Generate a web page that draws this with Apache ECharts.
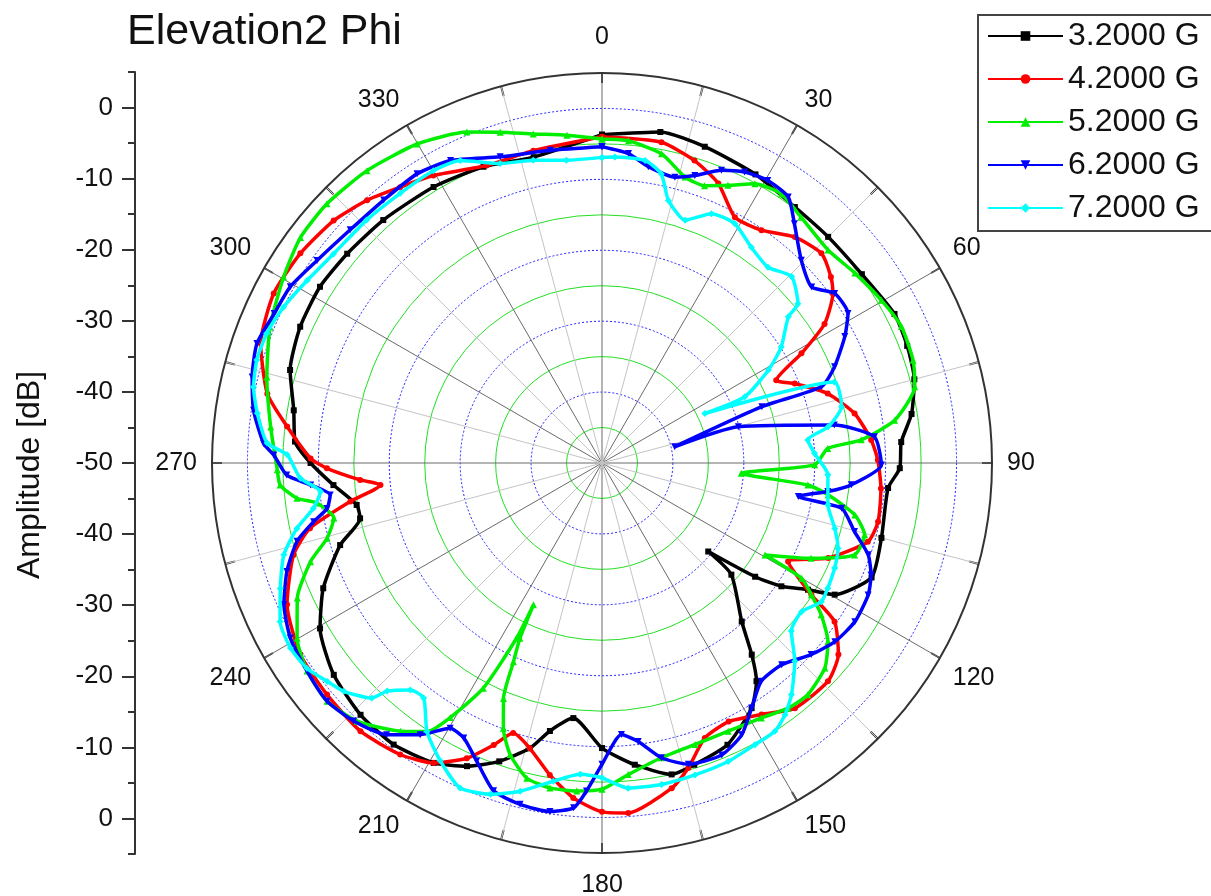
<!DOCTYPE html>
<html>
<head>
<meta charset="utf-8">
<script src="https://cdn.jsdelivr.net/npm/echarts@6/dist/echarts.min.js"></script>
<style>
html,body{margin:0;padding:0;background:#fff;}
#chart{width:1211px;height:896px;}
</style>
</head>
<body>
<div id="chart"></div>
<script>
// ---- data: [angle (deg), amplitude (dB)] ----
const seriesNames = ['3.2000 G', '4.2000 G', '5.2000 G', '6.2000 G', '7.2000 G'];

const s32 = [[0,-3.7],[10,-2.6],[18,-3.1],[28,-3.9],[37,-4.8],[45,-4.9],[54,-4.7],[63,-3.7],[69,-3.9],[75,-4.4],[81,-5.8],[86,-7.7],[91,-8.0],[95,-9.5],[105,-9.2],[113,-8.7],[119.5,-12.3],[121.6,-15.9],[124.5,-19.3],[126.6,-23.1],[129.8,-30.5],[130.8,-25.9],[138.6,-20.2],[142,-15.7],[144.7,-12.3],[148.6,-9.5],[156,-6.5],[163,-5.5],[167.4,-5.0],[173.8,-7.2],[180,-9.8],[186.4,-13.8],[191,-11.5],[194.2,-8.5],[199,-5.5],[204,-3.2],[209.3,-1.5],[216.5,-0.6],[223.8,-0.8],[231.7,-1.8],[239.6,-3.9],[245.8,-6.9],[252.6,-11.3],[257.1,-15.0],[260.3,-14.9],[265.3,-12.0],[270,-8.9],[274,-6.6],[279.7,-5.9],[286.6,-4.1],[294.3,-3.3],[302,-3.1],[309.4,-3.5],[318,-3.9],[328.6,-4.4],[338.2,-5.0],[347.4,-5.8],[360,-3.7]];

const s42 = [[0,-4.0],[10.5,-4.0],[17,-5.4],[22.6,-7.3],[28.4,-10.6],[34.4,-10.2],[40.5,-8.1],[46.3,-7.2],[50.9,-8.4],[53.7,-9.6],[58,-13.0],[61.2,-17.9],[64.6,-22.8],[67.6,-20.6],[72.9,-16.7],[78.9,-13.7],[85.1,-11.9],[89.4,-11.1],[95.2,-10.5],[102,-10.2],[106.5,-10.9],[112.8,-15.4],[117.9,-20.3],[122.2,-15.1],[124.3,-10.3],[129,-7.1],[134,-5.7],[141.8,-6.0],[147.6,-8.0],[153.9,-9.4],[159.5,-8.6],[164.2,-5.3],[167.9,-3.1],[175.7,-0.5],[180,-0.8],[184.9,-2.6],[189.5,-5.4],[194.2,-8.5],[198.2,-9.9],[201,-7.4],[204.6,-4.2],[209.3,-1.5],[214.7,0.0],[222,0.9],[229.9,0.7],[237.6,0.4],[245.8,-1.3],[253.4,-4.6],[257.4,-7.8],[261.3,-14.1],[264.3,-18.6],[266,-15.8],[268.9,-11.2],[270.9,-8.9],[276.6,-5.3],[281.7,-1.8],[289.3,1.0],[297.3,2.1],[304.8,1.8],[312.1,1.0],[318.2,-0.3],[323.8,-1.8],[329.6,-3.0],[338.8,-5.0],[347.6,-4.9],[360,-4.0]];

const s52 = [[0,-4.3],[4.7,-4.4],[10.9,-5.6],[16.2,-8.0],[20.3,-8.3],[24.4,-7.0],[28.7,-5.1],[33.7,-4.4],[39,-5.4],[46.7,-6.2],[53.1,-5.4],[59.8,-4.4],[65.5,-3.6],[71.7,-3.8],[76.3,-4.6],[81.7,-8.3],[84.9,-13.3],[86.3,-18.1],[90.5,-20.0],[94.2,-30.3],[96.1,-20.8],[98,-17.8],[101.6,-13.6],[105.3,-11.6],[110,-12.1],[114.5,-17.6],[119.4,-23.6],[120,-17.5],[122.2,-15.1],[124.7,-12.4],[128.3,-9.4],[132.6,-7.3],[138.4,-6.3],[142.8,-6.6],[148,-7.6],[154.8,-8.2],[161.7,-8.2],[168.6,-7.6],[175.2,-5.9],[180,-4.0],[184.4,-3.6],[189.1,-3.6],[193.4,-4.3],[197.5,-6.9],[200.4,-10.1],[202.7,-14.0],[204,-19.3],[205.1,-22.7],[205.8,-27.8],[206,-22.5],[207.8,-14.1],[210.8,-8.2],[213.1,-4.8],[216.9,-2.7],[223.5,0.2],[229.1,1.3],[234.8,0.9],[240.1,-0.4],[246.1,-3.0],[251.3,-6.6],[254.7,-9.8],[258.4,-11.4],[262,-9.4],[263.4,-6.7],[266.1,-4.5],[268.8,-4.2],[276.2,-3.0],[284.4,-1.2],[292.3,0.6],[300.3,2.0],[306.8,3.1],[313.3,3.3],[321.2,2.9],[329.9,2.0],[337.8,0.4],[342.9,-1.2],[348.2,-2.6],[353.9,-3.5],[360,-4.3]];

const s62 = [[0,-5.4],[4.9,-6.2],[8.9,-7.7],[14.3,-8.4],[17.9,-7.4],[22.2,-5.4],[26.1,-4.3],[30.4,-3.8],[35,-4.2],[38.8,-6.7],[44.5,-9.9],[50,-11.4],[53.9,-9.4],[58.7,-9.4],[62.5,-11.4],[67.5,-14.5],[70.8,-17.2],[70.6,-26.1],[77.4,-39.5],[75.1,-30.1],[80.7,-16.8],[84.5,-11.4],[90.4,-10.6],[95,-14.7],[97.2,-17.9],[99.7,-21.9],[100.7,-15.6],[105.2,-13.1],[109,-10.3],[112.6,-8.9],[116.4,-8.1],[122.1,-7.9],[127.5,-8.6],[132.5,-10.0],[138.3,-11.9],[143.9,-11.9],[148.6,-9.5],[152.8,-6.9],[157.7,-5.5],[164,-5.8],[168.6,-7.6],[172.6,-10.4],[175.9,-11.6],[180,-7.5],[182.7,-3.7],[184.7,-1.2],[188.5,-0.3],[193.5,-0.5],[198.3,-1.3],[202.8,-4.4],[206.7,-6.6],[209.8,-6.9],[213.8,-3.9],[218.4,-1.1],[223.9,0.5],[229.1,1.3],[234.8,0.9],[240.7,0.4],[246,-0.9],[251,-3.0],[255.6,-5.6],[258.5,-8.5],[260.6,-10.7],[263.3,-11.4],[265.7,-8.8],[267.8,-5.5],[271.4,-3.7],[273.3,-2.2],[278.6,-0.3],[283.8,0.8],[289.1,1.5],[294.5,0.8],[299.5,0.5],[305.4,-0.7],[312.8,-1.6],[320.3,-1.8],[327.4,-1.6],[333.4,-2.3],[341.6,-4.5],[350.6,-5.3],[360,-5.4]];

const s72 = [[0,-6.9],[2.4,-6.8],[8.1,-6.9],[11.6,-8.4],[14.2,-11.8],[18.9,-13.8],[23.7,-11.6],[29,-11.4],[34.7,-13.0],[40.3,-13.8],[45.5,-12.5],[50.9,-14.4],[51.9,-16.6],[57.1,-19.9],[60.8,-23.1],[65.1,-27.8],[64.3,-33.9],[70.8,-15.3],[76.8,-15.3],[80.9,-17.7],[83.6,-20.8],[87.4,-20.0],[93,-18.1],[100.5,-17.6],[105.7,-15.9],[109.9,-14.6],[114.3,-14.0],[119,-13.6],[122.3,-13.4],[126.7,-14.9],[131.6,-14.3],[135.8,-11.0],[140.7,-7.8],[144,-6.1],[147.2,-5.0],[151.5,-4.8],[157.1,-4.3],[163.4,-4.1],[169.5,-3.9],[175.4,-4.0],[180,-5.6],[184,-6.0],[188.7,-4.6],[194,-2.3],[198.6,-0.7],[203.6,0.0],[208.5,-2.2],[213.1,-4.8],[217.2,-8.4],[220.2,-8.1],[223.3,-5.8],[224.4,-3.6],[228.5,-1.4],[231.5,-0.5],[235.2,0.7],[239.3,1.1],[243.8,0.6],[248.7,-1.3],[253.9,-3.3],[257.9,-6.0],[261.1,-8.8],[264.2,-10.1],[267.1,-7.4],[271.5,-5.6],[273.4,-2.7],[278.2,-0.9],[282.3,0.3],[286.6,0.8],[291.1,0.7],[296.1,0.0],[301.8,-1.1],[307.9,-2.0],[315.9,-2.3],[323.2,-2.5],[330,-2.4],[334.9,-2.9],[341.2,-5.4],[347.2,-6.2],[353.3,-7.0],[360,-6.9]];

// angular tick labels every 30 deg
const angleLabels = [0, 30, 60, 90, 120, 150, 180, 210, 240, 270, 300, 330];
// left amplitude axis labels, top to bottom
const ampLabels = ['0', '-10', '-20', '-30', '-40', '-50', '-40', '-30', '-20', '-10', '0'];

// ---- build ----
const colors = ['#000000', '#ff0000', '#00ee00', '#0000ff', '#00ffff'];
const symbols = ['rect', 'circle', 'triangle', 'path://M0,0 L10,0 L5,9 Z', 'diamond'];
const symSizes = [6, 6, 7, 7, 7];
const allData = [s32, s42, s52, s62, s72];

const rMin = -50, rMax = 5, rStep = 5;
const nRings = (rMax - rMin) / rStep + 1;
const blueRing = [], greenRing = [];
for (let i = 0; i < nRings; i++) {
  const isBlue = i % 2 === 0 && i < nRings - 1;
  const isGreen = i % 2 === 1 && i < nRings - 1;
  blueRing.push(isBlue ? '#2020ff' : 'rgba(0,0,0,0)');
  greenRing.push(isGreen ? '#22e022' : 'rgba(0,0,0,0)');
}

// left axis tick positions (scale 0..110 measured from top edge, +5 dB at top)
const ampMajorPos = ampLabels.map((_, i) => 5 + i * 10);
const ampMinorPos = [];
for (let i = 0; i <= 11; i++) ampMinorPos.push(i * 10);

const FONT = 'Liberation Sans, Arial, sans-serif';

const option = {
  animation: false,
  backgroundColor: '#ffffff',
  textStyle: { fontFamily: FONT },
  title: {
    text: 'Elevation2 Phi',
    left: 122, top: 6,
    textStyle: { fontSize: 43, fontWeight: 'normal', color: '#111', fontFamily: FONT }
  },
  legend: {
    orient: 'vertical',
    left: 978, top: 15,
    itemWidth: 75, itemHeight: 12, itemGap: 11,
    padding: [5, 30, 7, 9],
    borderColor: '#444', borderWidth: 2,
    textStyle: { fontSize: 32, color: '#111', lineHeight: 30, fontFamily: FONT },
    data: seriesNames
  },
  polar: [
    { center: [602, 463], radius: 390 },
    { center: [602, 463], radius: 390 }
  ],
  angleAxis: [
    {
      polarIndex: 0, type: 'value', min: 0, max: 360, interval: 15,
      startAngle: 90, clockwise: true,
      axisLine: { show: true, lineStyle: { color: '#333', width: 2 } },
      axisTick: { show: true, inside: true, length: 10, lineStyle: { color: '#333', width: 2 } },
      axisLabel: {
        show: true, margin: 15, fontSize: 25, color: '#111',
        formatter: v => {
          if (v === angleLabels[0]) return '{t|' + v + '}';
          if (v === angleLabels[6]) return '{b|' + v + '}';
          return angleLabels.indexOf(v) >= 0 ? String(v) : '';
        },
        rich: {
          t: { fontSize: 25, color: '#111', padding: [0, 0, 8, 0] },
          b: { fontSize: 25, color: '#111', padding: [5, 0, 0, 0] }
        }
      },
      splitLine: { show: true, lineStyle: { color: ['#6a6a6a', '#c4c4c4'], width: 1 } },
      z: 1
    },
    {
      polarIndex: 1, type: 'value', min: 0, max: 360, startAngle: 90,
      axisLine: { show: false }, axisTick: { show: false },
      axisLabel: { show: false }, splitLine: { show: false }
    }
  ],
  radiusAxis: [
    {
      polarIndex: 0, type: 'value', min: rMin, max: rMax, interval: rStep,
      axisLine: { show: false }, axisTick: { show: false }, axisLabel: { show: false },
      splitLine: { show: true, lineStyle: { color: blueRing, width: 1, type: [2, 2] } }
    },
    {
      polarIndex: 1, type: 'value', min: rMin, max: rMax, interval: rStep,
      axisLine: { show: false }, axisTick: { show: false }, axisLabel: { show: false },
      splitLine: { show: true, lineStyle: { color: greenRing, width: 1 } }
    }
  ],
  grid: { left: 135, top: 72, width: 10, height: 782, containLabel: false, show: false },
  xAxis: { type: 'value', gridIndex: 0, show: false, min: 0, max: 1 },
  yAxis: [
    {
      type: 'value', gridIndex: 0, position: 'left', inverse: true, min: 0, max: 110,
      axisLine: { show: true, onZero: false, lineStyle: { color: '#333', width: 2 } },
      axisTick: { show: true, length: 13, customValues: ampMajorPos, lineStyle: { color: '#333', width: 2 } },
      axisLabel: {
        show: true, customValues: ampMajorPos, fontSize: 26, color: '#111', margin: 22,
        formatter: v => ampLabels[ampMajorPos.indexOf(v)]
      },
      splitLine: { show: false },
      name: 'Amplitude [dB]', nameLocation: 'middle', nameGap: 89, nameRotate: 90,
      nameTextStyle: { fontSize: 32, color: '#111', fontFamily: FONT, padding: [0, 24, 0, 0] }
    },
    {
      type: 'value', gridIndex: 0, position: 'left', inverse: true, min: 0, max: 110,
      axisLine: { show: false },
      axisTick: { show: true, length: 7, customValues: ampMinorPos, lineStyle: { color: '#333', width: 2 } },
      axisLabel: { show: false }, splitLine: { show: false }
    }
  ],
  series: allData.map((d, i) => ({
    name: seriesNames[i],
    type: 'line',
    coordinateSystem: 'polar',
    polarIndex: 0,
    data: d.map(p => [p[1], p[0]]),
    showSymbol: true,
    symbol: symbols[i],
    symbolSize: symSizes[i],
    smooth: 0.2,
    lineStyle: { color: colors[i], width: 3.5 },
    itemStyle: { color: colors[i] },
    z: 3 + i
  }))
};

const chart = echarts.init(document.getElementById('chart'), null, { renderer: 'canvas' });
chart.setOption(option);
</script>
</body>
</html>
